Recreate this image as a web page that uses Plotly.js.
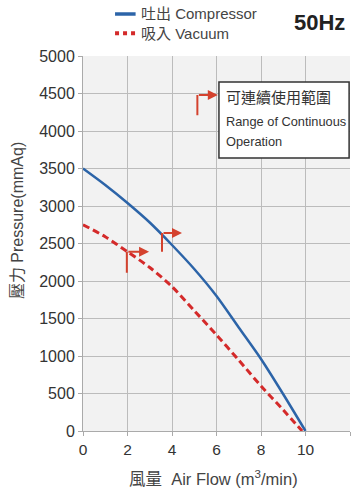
<!DOCTYPE html>
<html><head><meta charset="utf-8">
<script src="https://cdn.plot.ly/plotly-3.0.1.min.js"></script>
<style>html,body{margin:0;padding:0;background:#fff;}#chart{width:355px;height:493px;}</style>
</head><body><div id="chart"></div>
<script>
// Data
const compressorFlow = [0, 1, 2, 3, 4, 5, 6, 7, 8, 9, 10];
const compressorPressure = [3500, 3280, 3040, 2780, 2480, 2160, 1800, 1380, 960, 490, 0];
const vacuumFlow = [0, 1, 2, 3, 4, 5, 6, 7, 8, 9, 9.85];
const vacuumPressure = [2750, 2590, 2390, 2180, 1925, 1605, 1280, 945, 600, 280, 0];
const xTicks = [0, 2, 4, 6, 8, 10, 12];
const yTicks = [0, 500, 1000, 1500, 2000, 2500, 3000, 3500, 4000, 4500, 5000];
const seriesNames = ["吐出 Compressor", "吸入 Vacuum"];
const boxLines = ["可連續使用範圍", "Range of Continuous", "Operation"];

const FONT = "Liberation Sans, Arial, Noto Sans CJK TC, sans-serif";
const CJK = "Liberation Sans, Noto Sans CJK TC, sans-serif";
const BLUE = "#2c64a8", RED = "#d42a2a", ARROW = "#d4422e";

const traces = [
  {x: compressorFlow, y: compressorPressure, mode: "lines", name: seriesNames[0],
   line: {color: BLUE, width: 2.5, shape: "spline", smoothing: 0.8}, showlegend: false},
  {x: vacuumFlow, y: vacuumPressure, mode: "lines", name: seriesNames[1],
   line: {color: RED, width: 3, dash: "7px,4px", shape: "spline", smoothing: 0.8}, showlegend: false}
];

// Range-of-operation arrows (vertical stem + arrow to the right)
const arrowX0 = [5.14, 3.55, 1.97];
const arrowX1 = [6.06, 4.45, 2.97];
const arrowYBottom = [4210, 2390, 2110];
const arrowYTop = [4480, 2640, 2390];

const shapes = [
  {type: "rect", xref: "x", yref: "y", x0: 6.11, x1: 11.96, y0: 3640, y1: 4655,
   line: {color: "#333", width: 1.5}, fillcolor: "#fff", layer: "above"},
  // legend samples
  {type: "line", xref: "paper", yref: "paper", x0: 0.12, x1: 0.197, y0: 1.112, y1: 1.112,
   line: {color: BLUE, width: 3.5}},
  {type: "line", xref: "paper", yref: "paper", x0: 0.12, x1: 0.197, y0: 1.061, y1: 1.061,
   line: {color: RED, width: 4, dash: "dot"}}
];
const annotations = [];
for (let i = 0; i < arrowX0.length; i++) {
  shapes.push({type: "line", xref: "x", yref: "y", x0: arrowX0[i], x1: arrowX0[i],
    y0: arrowYBottom[i], y1: arrowYTop[i], line: {color: ARROW, width: 2}});
  annotations.push({xref: "x", yref: "y", axref: "x", ayref: "y",
    x: arrowX1[i], y: arrowYTop[i], ax: arrowX0[i], ay: arrowYTop[i],
    text: "", showarrow: true, arrowhead: 2, arrowsize: 1, arrowwidth: 2, arrowcolor: ARROW});
}
const boxY = [4450, 4125, 3855];
const boxSize = [15, 12.8, 12.8];
for (let i = 0; i < boxLines.length; i++) {
  annotations.push({xref: "x", yref: "y", x: 6.33, y: boxY[i], xanchor: "left", yanchor: "middle",
    text: boxLines[i], showarrow: false, font: {family: CJK, size: boxSize[i], color: "#333"}});
}
// legend text
annotations.push({xref: "paper", yref: "paper", x: 0.21, y: 1.112, xanchor: "left", yanchor: "middle",
  text: seriesNames[0], showarrow: false, font: {family: CJK, size: 15, color: "#444"}});
annotations.push({xref: "paper", yref: "paper", x: 0.21, y: 1.061, xanchor: "left", yanchor: "middle",
  text: seriesNames[1], showarrow: false, font: {family: CJK, size: 15, color: "#444"}});
annotations.push({xref: "paper", yref: "paper", x: 0.99, y: 1.09, xanchor: "right", yanchor: "middle",
  text: "<b>50Hz</b>", showarrow: false, font: {family: FONT, size: 22, color: "#222"}});
// axis titles
annotations.push({xref: "paper", yref: "paper", x: -0.243, y: 0.56, xanchor: "center", yanchor: "middle",
  textangle: -90, text: "壓力 Pressure(mmAq)", showarrow: false, font: {family: CJK, size: 16, color: "#444"}});
annotations.push({xref: "paper", yref: "paper", x: 0.49, y: -0.125, xanchor: "center", yanchor: "middle",
  text: "風量  Air Flow (m<sup>3</sup>/min)", showarrow: false, font: {family: CJK, size: 16.5, color: "#444"}});

const layout = {
  width: 355, height: 493,
  margin: {l: 83, r: 5, t: 56, b: 62},
  paper_bgcolor: "#fff", plot_bgcolor: "#f2f2f2",
  showlegend: false,
  font: {family: FONT, color: "#333"},
  xaxis: {range: [0, 12], tickvals: xTicks, ticktext: xTicks.map(String),
    showgrid: true, gridcolor: "#bcbcbc", gridwidth: 1, zeroline: false,
    showline: true, linecolor: "#aaa", linewidth: 1,
    ticks: "outside", ticklen: 4, tickcolor: "#aaa",
    tickfont: {family: FONT, size: 15.5, color: "#333"}, fixedrange: true},
  yaxis: {range: [0, 5000], tickvals: yTicks, ticktext: yTicks.map(String),
    showgrid: true, gridcolor: "#bcbcbc", gridwidth: 1, zeroline: false,
    showline: true, linecolor: "#aaa", linewidth: 1,
    ticks: "outside", ticklen: 4, tickcolor: "#aaa",
    tickfont: {family: FONT, size: 16, color: "#333"}, fixedrange: true},
  shapes: shapes,
  annotations: annotations
};
Plotly.newPlot("chart", traces, layout, {displayModeBar: false, staticPlot: true});
</script>
</body></html>
